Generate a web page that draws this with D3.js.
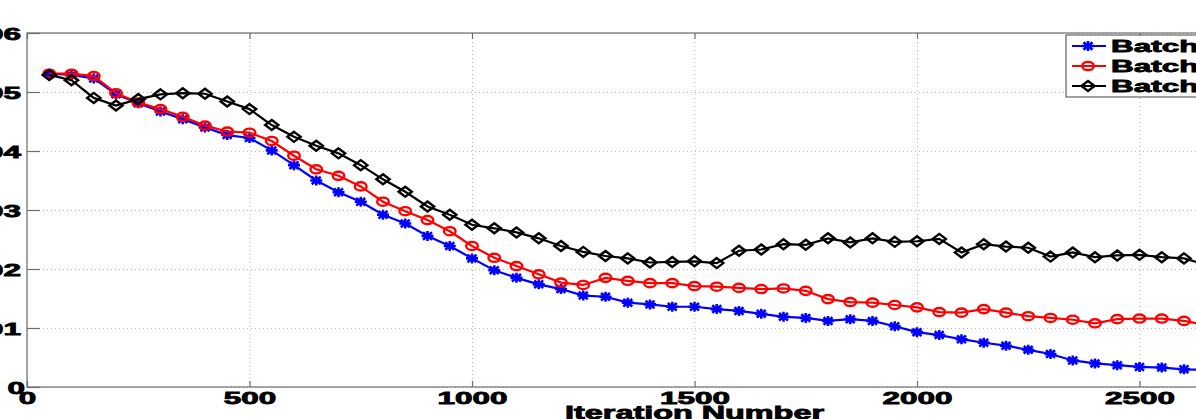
<!DOCTYPE html>
<html lang="en">
  <head>
    <meta charset="UTF-8" />
    <title>Iteration Number chart</title>
    <script src="https://cdn.jsdelivr.net/npm/d3@7"></script>
    <style>
      body { margin: 0; background: #fff; }
      svg { display: block; font-family: "Liberation Sans", Arial, sans-serif; font-weight: bold; }
    </style>
  </head>
  <body>
    <svg id="svg"></svg>
  </body>
  <script>
    // data (every 50 iterations)
    const iterations = [50, 100, 150, 200, 250, 300, 350, 400, 450, 500, 550, 600, 650, 700, 750, 800,
      850, 900, 950, 1000, 1050, 1100, 1150, 1200, 1250, 1300, 1350, 1400, 1450, 1500, 1550, 1600,
      1650, 1700, 1750, 1800, 1850, 1900, 1950, 2000, 2050, 2100, 2150, 2200, 2250, 2300, 2350,
      2400, 2450, 2500, 2550, 2600, 2650];
    const blueValues = [0.0531, 0.0529, 0.0523, 0.0496, 0.0481, 0.0467, 0.0454, 0.0440, 0.0427, 0.0422,
      0.0401, 0.0376, 0.0350, 0.0330, 0.0314, 0.0292, 0.0277, 0.0256, 0.0239, 0.0218, 0.0198, 0.0185,
      0.0174, 0.0166, 0.0155, 0.0153, 0.0143, 0.0140, 0.0136, 0.0136, 0.0132, 0.0129, 0.0124, 0.0119,
      0.0117, 0.0112, 0.0115, 0.0112, 0.0103, 0.0093, 0.0088, 0.0081, 0.0075, 0.0070, 0.0063, 0.0056,
      0.0045, 0.0040, 0.0037, 0.0034, 0.0033, 0.0030, 0.0029];
    const redValues = [0.0531, 0.0531, 0.0527, 0.0498, 0.0482, 0.0471, 0.0458, 0.0443, 0.0433, 0.0431,
      0.0417, 0.0392, 0.0369, 0.0358, 0.0340, 0.0314, 0.0298, 0.0283, 0.0264, 0.0239, 0.0219, 0.0205,
      0.0191, 0.0177, 0.0173, 0.0185, 0.0180, 0.0176, 0.0176, 0.0171, 0.0170, 0.0168, 0.0166, 0.0167,
      0.0163, 0.0149, 0.0144, 0.0143, 0.0139, 0.0135, 0.0127, 0.0126, 0.0132, 0.0126, 0.0120, 0.0117,
      0.0114, 0.0108, 0.0115, 0.0116, 0.0116, 0.0112, 0.0105];
    const blackValues = [0.0529, 0.0520, 0.0490, 0.0477, 0.0488, 0.0496, 0.0498, 0.0497, 0.0484, 0.0471,
      0.0444, 0.0424, 0.0409, 0.0396, 0.0376, 0.0352, 0.0331, 0.0306, 0.0292, 0.0275, 0.0269, 0.0262,
      0.0252, 0.0239, 0.0229, 0.0222, 0.0218, 0.0211, 0.0212, 0.0213, 0.0210, 0.0231, 0.0233, 0.0242,
      0.0241, 0.0252, 0.0245, 0.0252, 0.0246, 0.0247, 0.0251, 0.0228, 0.0242, 0.0238, 0.0236, 0.0221,
      0.0228, 0.0220, 0.0223, 0.0224, 0.0220, 0.0218, 0.0207];
    const seriesNames = ["Batch 1", "Batch 2", "Batch 3"];
    const xTicks = [0, 500, 1000, 1500, 2000, 2500, 3000];
    const yTicks = [0, 0.01, 0.02, 0.03, 0.04, 0.05, 0.06];

    const W = 1196, H = 419;
    const SX = 1.85; // picture is stretched sideways, text too
    const svg = d3.select("#svg").attr("width", W).attr("height", H);

    const x = d3.scaleLinear().domain([0, 3000]).range([27, 1362]);
    const y = d3.scaleLinear().domain([0, 0.06]).range([387, 33]);
    const pLeft = x.range()[0], pRight = x.range()[1];
    const pTop = y.range()[1], pBottom = y.range()[0];

    svg.append("rect").attr("width", W).attr("height", H).attr("fill", "#fff");

    // grid
    const gridX = svg.append("g").attr("transform", `translate(0,${pBottom})`)
      .call(d3.axisBottom(x).tickValues(xTicks).tickSize(-(pBottom - pTop)).tickFormat(""));
    const gridY = svg.append("g").attr("transform", `translate(${pLeft},0)`)
      .call(d3.axisLeft(y).tickValues(yTicks).tickSize(-(pRight - pLeft)).tickFormat(""));
    [gridX, gridY].forEach((g) => {
      g.select(".domain").remove();
      g.selectAll("line").attr("stroke", "#b5b5b5").attr("stroke-width", 1).attr("stroke-dasharray", "1,3");
    });

    // axes box
    svg.append("rect")
      .attr("x", pLeft).attr("y", pTop)
      .attr("width", pRight - pLeft).attr("height", pBottom - pTop)
      .attr("fill", "none").attr("stroke", "#6e6e6e").attr("stroke-width", 1.2);

    const fmtY = (d) => (d === 0 ? "0" : d3.format(".2f")(d));

    const axB = svg.append("g").attr("transform", `translate(0,${pBottom})`)
      .call(d3.axisBottom(x).tickValues(xTicks).tickSizeInner(-6).tickSizeOuter(0).tickFormat(d3.format("d")));
    const axT = svg.append("g").attr("transform", `translate(0,${pTop})`)
      .call(d3.axisTop(x).tickValues(xTicks).tickSizeInner(-6).tickSizeOuter(0).tickFormat(""));
    const axL = svg.append("g").attr("transform", `translate(${pLeft},0)`)
      .call(d3.axisLeft(y).tickValues(yTicks).tickSizeInner(-13).tickSizeOuter(0).tickFormat(fmtY));
    [axB, axT, axL].forEach((g) => {
      g.select(".domain").remove();
      g.selectAll("line").attr("stroke", "#6e6e6e").attr("stroke-width", 1.2);
      g.selectAll("text").attr("fill", "#000").attr("font-size", 17)
        .attr("stroke", "#000").attr("stroke-width", 0.8)
        .attr("font-family", "Liberation Sans, Arial, sans-serif").attr("font-weight", "bold");
    });
    axB.selectAll("text").attr("y", null).attr("dy", null)
      .attr("transform", `translate(0,17) scale(${SX},1)`);
    axL.selectAll("text").attr("x", null).attr("dy", null)
      .attr("transform", (d) => `translate(${d === 0 ? -2 : -6},6) scale(${SX},1)`);

    // x label
    svg.append("text")
      .attr("transform", `translate(${(pLeft + pRight) / 2},419) scale(${SX},1)`)
      .attr("text-anchor", "middle").attr("font-size", 17.5)
      .attr("stroke", "#000").attr("stroke-width", 0.8)
      .text("Iteration Number");

    // markers
    const starPath = (rx, ry) =>
      `M${-rx},0L${rx},0M0,${-ry}L0,${ry}M${-rx * 0.75},${-ry * 0.75}L${rx * 0.75},${ry * 0.75}M${-rx * 0.75},${ry * 0.75}L${rx * 0.75},${-ry * 0.75}`;
    const diamondPath = (rx, ry) => `M0,${-ry}L${rx},0L0,${ry}L${-rx},0Z`;

    const series = [
      { name: seriesNames[0], values: blueValues, color: "#0000ff", marker: "star" },
      { name: seriesNames[1], values: redValues, color: "#ff0000", marker: "circle" },
      { name: seriesNames[2], values: blackValues, color: "#000000", marker: "diamond" },
    ];

    function drawMarker(g, type, color) {
      if (type === "circle") {
        g.append("ellipse").attr("rx", 5.8).attr("ry", 4.1)
          .attr("fill", "none").attr("stroke", color).attr("stroke-width", 2.4);
      } else if (type === "diamond") {
        g.append("path").attr("d", diamondPath(6.6, 5))
          .attr("fill", "none").attr("stroke", color).attr("stroke-width", 2.4);
      } else {
        g.append("path").attr("d", starPath(6, 5))
          .attr("fill", "none").attr("stroke", color).attr("stroke-width", 2.6);
      }
    }

    svg.append("clipPath").attr("id", "plot-clip")
      .append("rect").attr("x", pLeft).attr("y", pTop).attr("width", pRight - pLeft).attr("height", pBottom - pTop);
    const plot = svg.append("g").attr("clip-path", "url(#plot-clip)");

    const line = d3.line().x((d, i) => x(iterations[i])).y((d) => y(d));

    series.forEach((s) => {
      plot.append("path").datum(s.values)
        .attr("d", line).attr("fill", "none")
        .attr("stroke", s.color).attr("stroke-width", 2.2);
      plot.selectAll(null).data(s.values).join("g")
        .attr("transform", (d, i) => `translate(${x(iterations[i])},${y(d)})`)
        .each(function () { drawMarker(d3.select(this), s.marker, s.color); });
    });

    // legend
    const lg = svg.append("g").attr("transform", "translate(1066,35)");
    lg.append("rect").attr("width", 290).attr("height", 62)
      .attr("fill", "#fff").attr("stroke", "#444").attr("stroke-width", 1);
    series.forEach((s, i) => {
      const row = lg.append("g").attr("transform", `translate(0,${11 + i * 20})`);
      row.append("line").attr("x1", 6).attr("x2", 40).attr("stroke", s.color).attr("stroke-width", 2.2);
      drawMarker(row.append("g").attr("transform", "translate(22,0)"), s.marker, s.color);
      row.append("text")
        .attr("transform", `translate(45,6) scale(${SX},1)`)
        .attr("font-size", 17).attr("stroke", "#000").attr("stroke-width", 0.8)
        .text(s.name);
    });
  </script>
</html>
